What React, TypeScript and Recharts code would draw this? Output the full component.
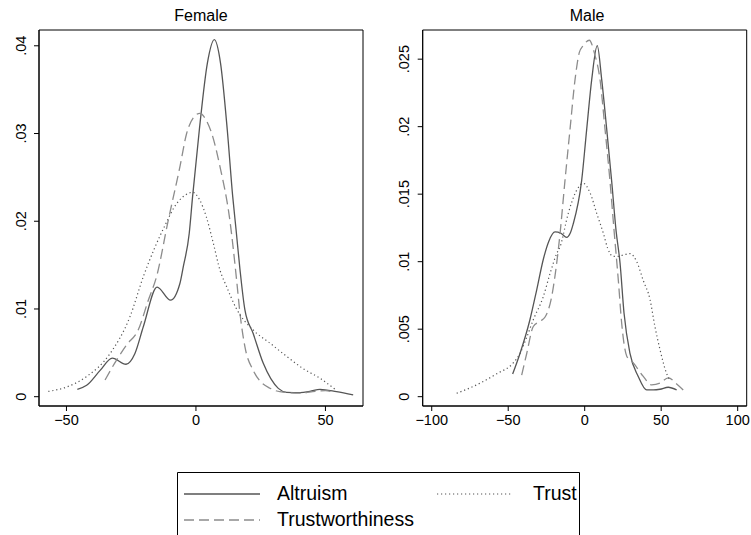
import React from 'react';
import { LineChart, Line, XAxis, YAxis, ReferenceArea } from 'recharts';

// kernel density estimates, [x, density]
const femaleAltruism = [
  [-45.8, 0.00084], [-42.2, 0.0013], [-37, 0.003], [-32.3, 0.0044], [-27, 0.0037],
  [-23.6, 0.0049], [-20.3, 0.008], [-15, 0.0125], [-9.8, 0.011], [-6.2, 0.0129],
  [-4.9, 0.0148], [-2.6, 0.0186], [-1.3, 0.0228], [1.3, 0.0304], [4.4, 0.038],
  [7.1, 0.0407], [9.5, 0.038], [12.1, 0.0304], [14.2, 0.0228], [15.5, 0.019],
  [17, 0.0145], [18.9, 0.0099], [22.1, 0.0072], [26, 0.0038], [31.8, 0.00095],
  [35, 0.0005], [40.2, 0.00046], [44, 0.0006], [47.9, 0.00084], [54.3, 0.00057],
  [60.7, 0.0002],
];
const femaleTrustworthiness = [
  [-35.1, 0.0019], [-30.6, 0.0042], [-26.8, 0.0059], [-22.3, 0.0076], [-18.4, 0.011],
  [-15.2, 0.0137], [-10.7, 0.0201], [-6.2, 0.0262], [-3.6, 0.03], [-1, 0.0318],
  [1.5, 0.0323], [4, 0.0315], [6.1, 0.03], [9.3, 0.0262], [13.1, 0.0201],
  [15.7, 0.0133], [17, 0.0095], [18.9, 0.0057], [22.1, 0.003], [25, 0.0017],
  [28.6, 0.00096], [32.4, 0.00057], [40.2, 0.0004], [46, 0.0006], [50, 0.0007],
  [53, 0.0005],
];
const femaleTrust = [
  [-57, 0.0006], [-50, 0.0011], [-42.2, 0.0023], [-33.2, 0.0049], [-25.5, 0.0091],
  [-20.3, 0.0137], [-12, 0.0195], [-7.5, 0.022], [-4, 0.023], [-1.3, 0.0233],
  [1.5, 0.0224], [4, 0.0205], [6.7, 0.0175], [9.3, 0.0144], [11.9, 0.0125],
  [15.5, 0.0101], [22.1, 0.0076], [28.6, 0.0061], [35, 0.0046], [41.4, 0.0032],
  [47.9, 0.0021], [54.3, 0.0007],
];

const maleAltruism = [
  [-47.1, 0.00168], [-42.3, 0.0032], [-35.8, 0.0057], [-31.4, 0.0079], [-27, 0.0102],
  [-23.5, 0.0115], [-19.4, 0.0122], [-15.5, 0.0121], [-11.8, 0.0118], [-9.5, 0.0121],
  [-7.5, 0.0128], [-2, 0.016], [1.3, 0.0198], [4.6, 0.0235], [8.2, 0.026],
  [11.1, 0.0235], [14.4, 0.0198], [17.6, 0.016], [20.5, 0.0123], [23.1, 0.0099],
  [25.7, 0.0062], [29.6, 0.0032], [35, 0.0015], [40.5, 0.0005], [45, 0.0005],
  [49.2, 0.00055], [54.6, 0.0007], [60.1, 0.0005],
];
const maleTrustworthiness = [
  [-41.2, 0.0016], [-37.9, 0.0032], [-33.6, 0.0052], [-29, 0.0056], [-25.9, 0.0059],
  [-21.6, 0.0074], [-18.3, 0.0099], [-16.1, 0.0121], [-12.9, 0.016], [-9.6, 0.0198],
  [-6.3, 0.0235], [-3.5, 0.0255], [-1, 0.026], [3, 0.0264], [6.7, 0.0253],
  [10, 0.0235], [13.3, 0.0198], [16.5, 0.016], [19.2, 0.0123], [22, 0.0086],
  [24.2, 0.0054], [27.5, 0.003], [31.8, 0.0025], [38.3, 0.0015], [43.8, 0.00087],
  [49.2, 0.001], [54.6, 0.0014], [60.1, 0.00094], [64.4, 0.0005],
];
const maleTrust = [
  [-83.7, 0.00025], [-68.4, 0.001], [-57.5, 0.0017], [-46.7, 0.0025], [-42.3, 0.0032],
  [-37.9, 0.0044], [-33.6, 0.0057], [-27.1, 0.0074], [-22.7, 0.0091], [-18.3, 0.0106],
  [-16.1, 0.0111], [-10.7, 0.0136], [-5.2, 0.0153], [-0.9, 0.0158], [3.5, 0.0151],
  [7.8, 0.0136], [12.2, 0.0121], [15, 0.011], [18.5, 0.0104], [22, 0.0104],
  [25.2, 0.0105], [29.6, 0.0106], [34, 0.01], [38.3, 0.0086], [42.7, 0.0072],
  [45.9, 0.0052], [49.2, 0.0035], [53.6, 0.0017], [55.8, 0.0012],
];

const femaleXTicks = [-50, 0, 50];
const femaleYTicks = [0, 0.01, 0.02, 0.03, 0.04];
const maleXTicks = [-100, -50, 0, 50, 100];
const maleYTicks = [0, 0.005, 0.01, 0.015, 0.02, 0.025];

const seriesNames = ['Altruism', 'Trustworthiness', 'Trust'];

const FONT = '"Liberation Sans", Arial, Helvetica, sans-serif';
const styles: Record<string, { stroke: string; dash?: string; width: number }> = {
  Altruism: { stroke: '#555', width: 1.3 },
  Trustworthiness: { stroke: '#8c8c8c', dash: '10 5', width: 1.3 },
  Trust: { stroke: '#555', dash: '1.2 2.8', width: 1.2 },
};

const toPoints = (arr: number[][]) => arr.map(([x, y]) => ({ x, y }));

const fmtX = (v: number) => (v < 0 ? '\u2212' + Math.abs(v) : String(v));
const fmtY = (v: number) => (v === 0 ? '0' : String(v).replace(/^0/, ''));

const RotatedTick = (props: any) => {
  const { x, y, payload } = props;
  return (
    <text
      transform={`translate(${x},${y}) rotate(-90)`}
      textAnchor="middle"
      fontSize={14.5}
      fontFamily={FONT}
      fill="#000"
    >
      {fmtY(payload.value)}
    </text>
  );
};

function Panel(props: any) {
  const { width, height, margin, xDomain, yDomain, xTicks, yTicks, data, yTickMargin } = props;
  return (
    <LineChart width={width} height={height} margin={margin}>
      <XAxis
        type="number"
        dataKey="x"
        domain={xDomain}
        ticks={xTicks}
        interval={0}
        allowDataOverflow
        tickFormatter={fmtX}
        tick={{ fontSize: 14.5, fill: '#000', fontFamily: FONT }}
        tickSize={5}
        tickMargin={4}
        height={30}
        axisLine={{ stroke: '#000' }}
        tickLine={{ stroke: '#000' }}
      />
      <YAxis
        type="number"
        domain={yDomain}
        ticks={yTicks}
        interval={0}
        allowDataOverflow
        tick={<RotatedTick />}
        tickSize={5}
        tickMargin={yTickMargin}
        width={30}
        axisLine={{ stroke: '#000' }}
        tickLine={{ stroke: '#000' }}
      />
      {/* plot frame along the domain edges */}
      <ReferenceArea
        x1={xDomain[0]}
        x2={xDomain[1]}
        y1={yDomain[0]}
        y2={yDomain[1]}
        fill="none"
        fillOpacity={0}
        stroke="#000"
        strokeWidth={1}
        strokeOpacity={1}
        ifOverflow="visible"
      />
      {seriesNames.map((name, i) => (
        <Line
          key={name}
          name={name}
          data={toPoints(data[i])}
          dataKey="y"
          type="monotone"
          stroke={styles[name].stroke}
          strokeWidth={styles[name].width}
          strokeDasharray={styles[name].dash}
          dot={false}
          activeDot={false}
          isAnimationActive={false}
        />
      ))}
    </LineChart>
  );
}

function LegendBox() {
  const rows = [
    { name: 'Altruism', lx: 184, tx: 277, y: 34 },
    { name: 'Trust', lx: 437, tx: 533, y: 34 },
    { name: 'Trustworthiness', lx: 184, tx: 277, y: 60 },
  ];
  return (
    <svg width={751} height={75} style={{ position: 'absolute', left: 0, top: 460 }}>
      <path d="M177.5,80 L177.5,12.5 L579.5,12.5 L579.5,80" fill="none" stroke="#000" strokeWidth={1} />
      {rows.map((r) => (
        <g key={r.name}>
          <line
            x1={r.lx}
            x2={r.lx + 76}
            y1={r.y}
            y2={r.y}
            stroke={styles[r.name].stroke}
            strokeWidth={styles[r.name].width}
            strokeDasharray={styles[r.name].dash}
          />
          <text x={r.tx} y={r.y + 6} fontSize={19.5} fontFamily={FONT} fill="#000">
            {r.name}
          </text>
        </g>
      ))}
    </svg>
  );
}

const titleStyle: React.CSSProperties = {
  position: 'absolute',
  top: 7,
  fontFamily: FONT,
  fontSize: 16,
  color: '#000',
  transform: 'translateX(-50%)',
  whiteSpace: 'nowrap',
};

export default function App() {
  return (
    <div style={{ position: 'absolute', left: 0, top: 0, width: 751, height: 535, background: '#fff', overflow: 'hidden' }}>
      <div style={{ position: 'absolute', left: 0, top: 0 }}>
        <Panel
          width={380}
          height={440}
          margin={{ top: 30, right: 17, left: 9, bottom: 4 }}
          xDomain={[-60.6, 64.5]}
          yDomain={[-0.00106, 0.0418]}
          xTicks={femaleXTicks}
          yTicks={femaleYTicks}
          yTickMargin={8.5}
          data={[femaleAltruism, femaleTrustworthiness, femaleTrust]}
        />
      </div>
      <div style={{ position: 'absolute', left: 380, top: 0 }}>
        <Panel
          width={371}
          height={440}
          margin={{ top: 30, right: 4.3, left: 12.7, bottom: 4 }}
          xDomain={[-105.9, 105.9]}
          yDomain={[-0.00069, 0.02716]}
          xTicks={maleXTicks}
          yTicks={maleYTicks}
          yTickMargin={9.2}
          data={[maleAltruism, maleTrustworthiness, maleTrust]}
        />
      </div>
      <div style={{ ...titleStyle, left: 201 }}>Female</div>
      <div style={{ ...titleStyle, left: 587 }}>Male</div>
      <LegendBox />
    </div>
  );
}
